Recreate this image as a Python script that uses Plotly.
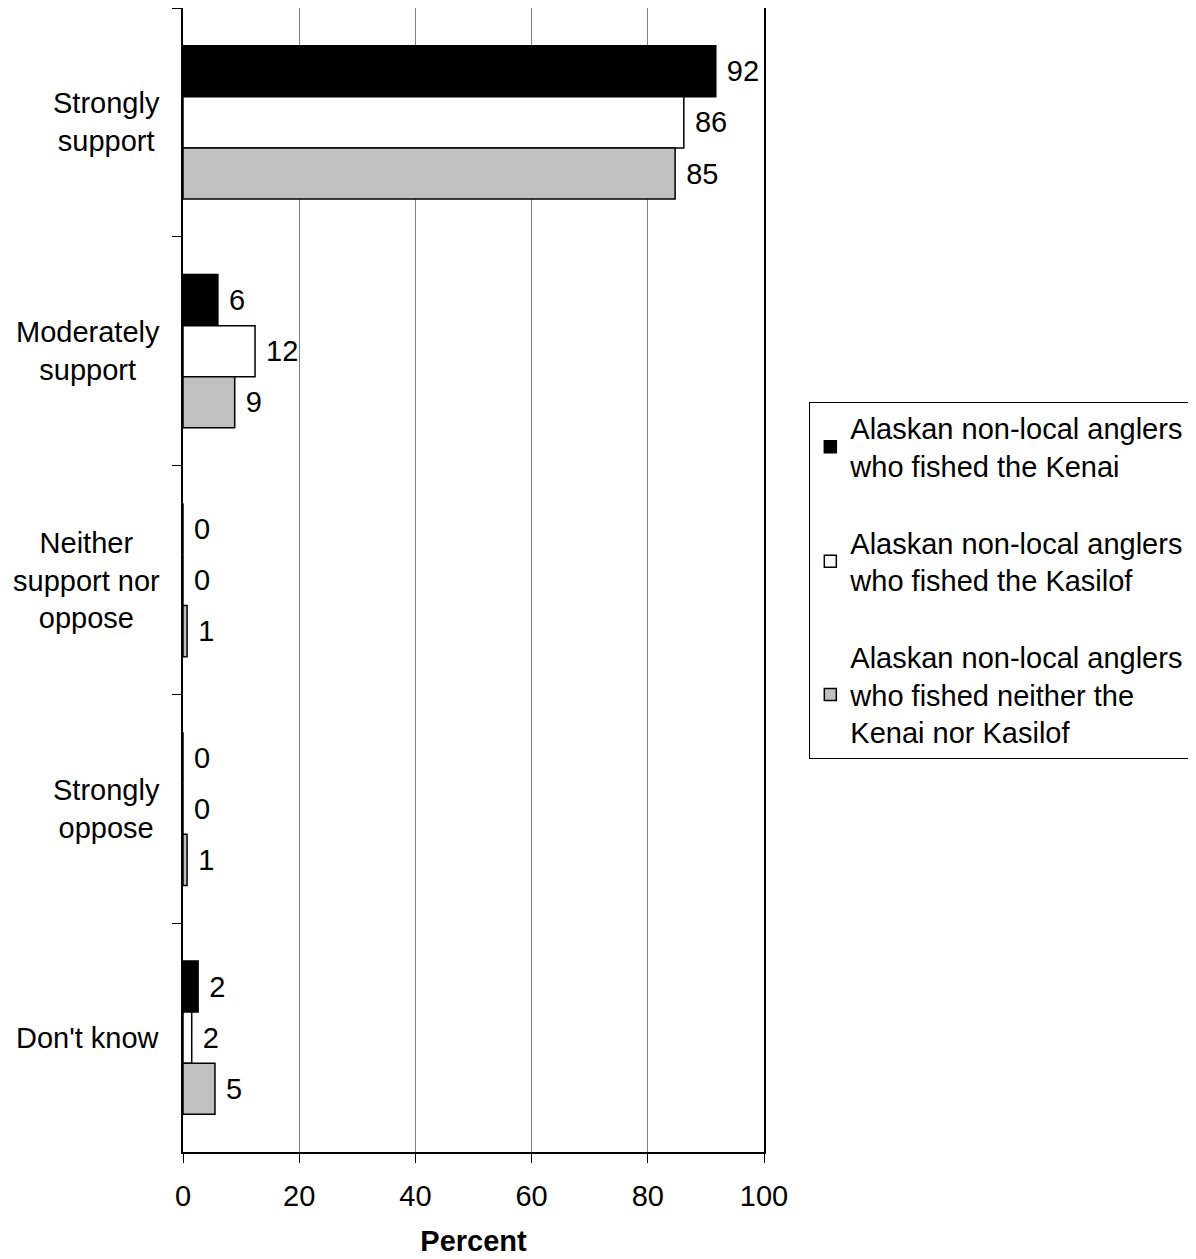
import plotly.graph_objects as go

categories = ["Strongly<br>support", "Moderately<br>support", "Neither<br>support nor<br>oppose",
              "Strongly<br>oppose", "Don't know"]
cat_keys = ["Strongly support", "Moderately support", "Neither support nor oppose",
            "Strongly oppose", "Don't know"]
series_names = ["Alaskan non-local anglers<br>who fished the Kenai",
                "Alaskan non-local anglers<br>who fished the Kasilof",
                "Alaskan non-local anglers<br>who fished neither the<br>Kenai nor Kasilof"]
kenai = [92, 6, 0, 0, 2]
kasilof = [86, 12, 0, 0, 2]
neither = [85, 9, 1, 1, 5]
kenai_len = [91.7, 6.0, 0, 0, 2.6]
kasilof_len = [86.2, 12.4, 0, 0, 1.5]
neither_len = [84.7, 8.9, 0.7, 0.7, 5.5]
colors = ["#000000", "#ffffff", "#c0c0c0"]
x_ticks = [0, 20, 40, 60, 80, 100]

FONT = "Liberation Sans, Arial, sans-serif"
FS = 29
fig = go.Figure()
for name, vals, lens, col in zip(series_names, [kenai, kasilof, neither],
                                 [kenai_len, kasilof_len, neither_len], colors):
    fig.add_trace(go.Bar(
        y=cat_keys, x=lens, orientation="h", name=name,
        marker=dict(color=col, line=dict(color="black", width=1.5)),
        text=["\u00a0" + str(v) for v in vals], textposition="outside",
        constraintext="none", cliponaxis=False,
        textfont=dict(size=FS, color="black", family=FONT),
        legendgroup=name,
    ))

for key, lab in zip(cat_keys, categories):
    fig.add_annotation(x=-0.036, xref="paper", y=key, yref="y", text=lab,
                       showarrow=False, xanchor="right", yanchor="middle",
                       align="center", font=dict(size=FS, color="black", family=FONT))

fig.update_layout(
    width=1188, height=1251,
    margin=dict(l=175, r=432, t=0, b=107, autoexpand=False),
    paper_bgcolor="white", plot_bgcolor="white",
    barmode="group", bargap=0.33, bargroupgap=0,
    font=dict(family=FONT, size=FS, color="black"),
    legend=dict(x=1.078, xanchor="left", y=0.656, yanchor="top",
                bordercolor="black", borderwidth=1, bgcolor="white",
                font=dict(size=FS, family=FONT, color="black"),
                tracegroupgap=36, traceorder="grouped"),
    xaxis=dict(range=[0, 100], tickvals=x_ticks, ticks="outside", ticklen=9,
               tickcolor="black", ticklabelstandoff=8,
               showgrid=True, gridcolor="#808080", gridwidth=1,
               showline=True, linecolor="black", linewidth=2, mirror=True,
               zeroline=False, tickfont=dict(size=FS),
               title=dict(text="<b>Percent</b>", font=dict(size=FS), standoff=20)),
    yaxis=dict(categoryorder="array", categoryarray=cat_keys, autorange="reversed",
               showticklabels=False, ticks="outside", ticklen=9, tickcolor="black",
               tickson="boundaries", showgrid=False,
               showline=True, linecolor="black", linewidth=2, mirror=True),
)
fig.write_html("out.html")
